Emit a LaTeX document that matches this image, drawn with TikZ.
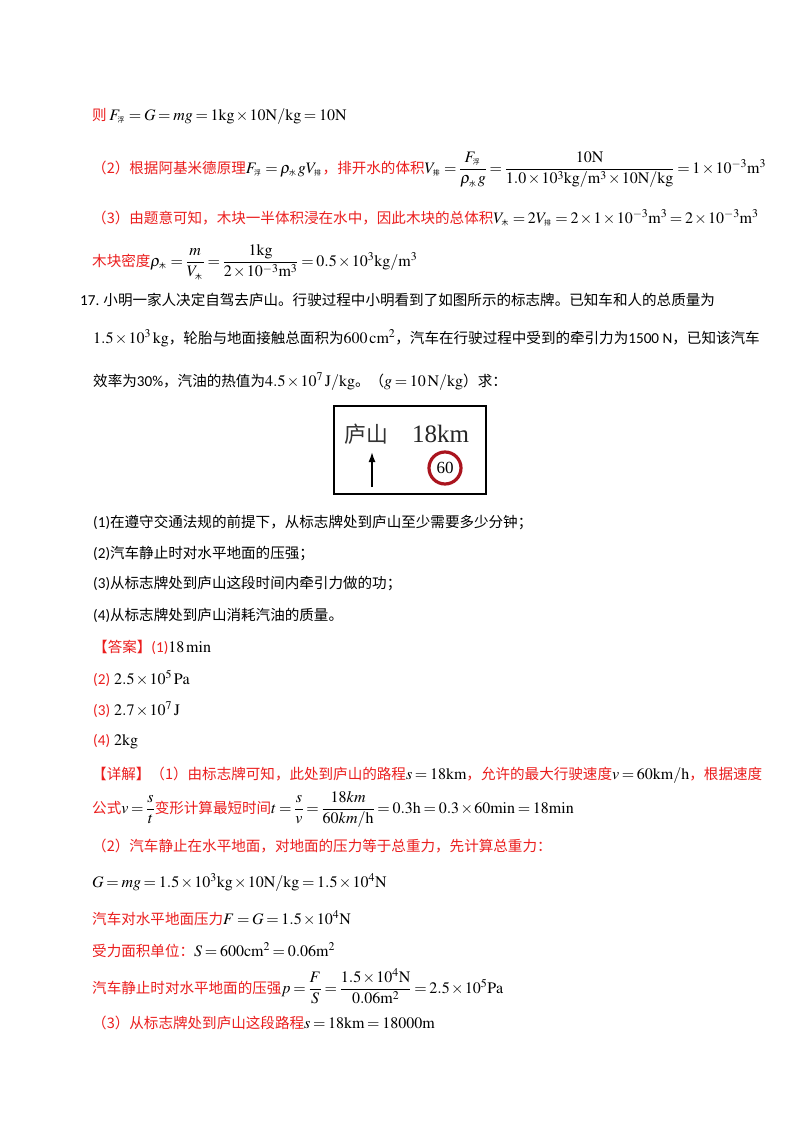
\documentclass[tikz,border=0pt]{standalone}
\usetikzlibrary{arrows.meta}
\usepackage{amsmath}
\usepackage{mathptmx}
\usepackage{fontspec}
\setmainfont{Liberation Serif}
\newfontfamily\cjk[Scale=0.91]{Noto Sans CJK SC}
\newfontfamily\calf[Scale=0.95]{Carlito}
\newcommand\zh[1]{{\cjk #1}}
\newcommand\zs[1]{\mbox{\cjk\fontsize{7.5}{8}\selectfont #1}\,}
\newcommand\um[1]{\mathrm{#1}}
\definecolor{ansred}{RGB}{235,30,30}
\definecolor{signred}{RGB}{170,20,30}
\thickmuskip=3mu plus 1mu
\medmuskip=1.5mu
\begin{document}
\begin{tikzpicture}[x=1pt,y=-1pt,
  txt/.style={anchor=base west,inner sep=0,font=\fontsize{16}{19}\selectfont},
  red/.style={txt,text=ansred}]
\useasboundingbox[fill=white] (0,0) rectangle (800,1132);
% top section
\node[txt] (l1) at (92,120) {\textcolor{ansred}{\zh{则}}\,$F_{\zs{浮}}=G=mg=1\um{kg}\times10\um{N/kg}=10\um{N}$};
\node[txt] (l2) at (92,173) {\textcolor{ansred}{\zh{（2）根据阿基米德原理}}$F_{\zs{浮}}=\rho_{\zs{水}}gV_{\zs{排}}$\textcolor{ansred}{\zh{，排开水的体积}}$V_{\zs{排}}=\dfrac{F_{\zs{浮}}}{\rho_{\zs{水}}g}=\dfrac{10\um{N}}{1.0\times10^3\um{kg/m^3}\times10\um{N/kg}}=1\times10^{-3}\um{m^3}$};
\node[txt] (l3) at (92,223) {\textcolor{ansred}{\zh{（3）由题意可知，木块一半体积浸在水中，因此木块的总体积}}$V_{\zs{木}}=2V_{\zs{排}}=2\times1\times10^{-3}\um{m^3}=2\times10^{-3}\um{m^3}$};
\node[txt] (l4) at (92,266) {\textcolor{ansred}{\zh{木块密度}}$\rho_{\zs{木}}=\dfrac{m}{V_{\zs{木}}}=\dfrac{1\um{kg}}{2\times10^{-3}\um{m^3}}=0.5\times10^3\um{kg/m^3}$};
% question 17
\node[txt] (q1) at (80,305) {{\calf 17.}\ \zh{小明一家人决定自驾去庐山。行驶过程中小明看到了如图所示的标志牌。已知车和人的总质量为}};
\node[txt] (q2) at (93,343) {$1.5\times10^3\,\um{kg}$\zh{，轮胎与地面接触总面积为}$600\,\um{cm^2}$\zh{，汽车在行驶过程中受到的牵引力为}{\calf 1500 N}\zh{，已知该汽车}};
\node[txt] (q3) at (93,386) {\zh{效率为}{\calf 30\%}\zh{，汽油的热值为}$4.5\times10^7\,\um{J/kg}$\zh{。（}$g=10\,\um{N/kg}$\zh{）求：}};
% sign
\node[draw,line width=1.3pt,minimum width=152,minimum height=88,inner sep=0] (sign) at (410,450) {};
\node[anchor=base west,inner sep=0,text=black!80] (lushan) at (344,442) {{\cjk\fontsize{24}{24}\selectfont 庐山}};
\node[anchor=base west,inner sep=0,font=\fontsize{25}{25}\selectfont,text=black!85] (km) at (412,442) {18km};
\coordinate (arb) at (372,487);
\coordinate (art) at (372,452);
\draw[line width=1.6pt,-{Latex[length=10pt,width=7pt]}] (arb) -- (art);
\node[circle,draw=signred,line width=3.2pt,minimum size=32,inner sep=0,font=\fontsize{17}{17}\selectfont] (lim) at (445,468) {60};
% subquestions
\node[txt] (s1) at (93,527) {{\calf (1)}\zh{在遵守交通法规的前提下，从标志牌处到庐山至少需要多少分钟；}};
\node[txt] (s2) at (93,558) {{\calf (2)}\zh{汽车静止时对水平地面的压强；}};
\node[txt] (s3) at (93,588) {{\calf (3)}\zh{从标志牌处到庐山这段时间内牵引力做的功；}};
\node[txt] (s4) at (93,620) {{\calf (4)}\zh{从标志牌处到庐山消耗汽油的质量。}};
% answers
\node[txt] (a1) at (93,652) {\textcolor{ansred}{\zh{【答案】}{\calf (1)}}$18\,\um{min}$};
\node[txt] (a2) at (93,684) {\textcolor{ansred}{\calf (2)} $2.5\times10^5\,\um{Pa}$};
\node[txt] (a3) at (93,715) {\textcolor{ansred}{\calf (3)} $2.7\times10^7\,\um{J}$};
\node[txt] (a4) at (93,745) {\textcolor{ansred}{\calf (4)} $2\um{kg}$};
% explanation
\node[red] (e1) at (92,779) {\zh{【详解】（1）由标志牌可知，此处到庐山的路程}\textcolor{black}{$s=18\um{km}$}\zh{，允许的最大行驶速度}\textcolor{black}{$v=60\um{km/h}$}\zh{，根据速度}};
\node[red] (e2) at (92,813) {\zh{公式}\textcolor{black}{$v=\dfrac{s}{t}$}\zh{变形计算最短时间}\textcolor{black}{$t=\dfrac{s}{v}=\dfrac{18km}{60km/\mathrm{h}}=0.3\um{h}=0.3\times60\um{min}=18\um{min}$}};
\node[red] (e3) at (92,851) {\zh{（2）汽车静止在水平地面，对地面的压力等于总重力，先计算总重力：}};
\node[txt] (e4) at (92,887) {$G=mg=1.5\times10^3\um{kg}\times10\um{N/kg}=1.5\times10^4\um{N}$};
\node[red] (e5) at (92,924) {\zh{汽车对水平地面压力}\textcolor{black}{$F=G=1.5\times10^4\um{N}$}};
\node[red] (e6) at (92,956) {\zh{受力面积单位：}\textcolor{black}{$S=600\um{cm^2}=0.06\um{m^2}$}};
\node[red] (e7) at (92,993) {\zh{汽车静止时对水平地面的压强}\textcolor{black}{$p=\dfrac{F}{S}=\dfrac{1.5\times10^4\um{N}}{0.06\um{m^2}}=2.5\times10^5\um{Pa}$}};
\node[red] (e8) at (92,1028) {\zh{（3）从标志牌处到庐山这段路程}\textcolor{black}{$s=18\um{km}=18000\um{m}$}};
\end{tikzpicture}
\end{document}
